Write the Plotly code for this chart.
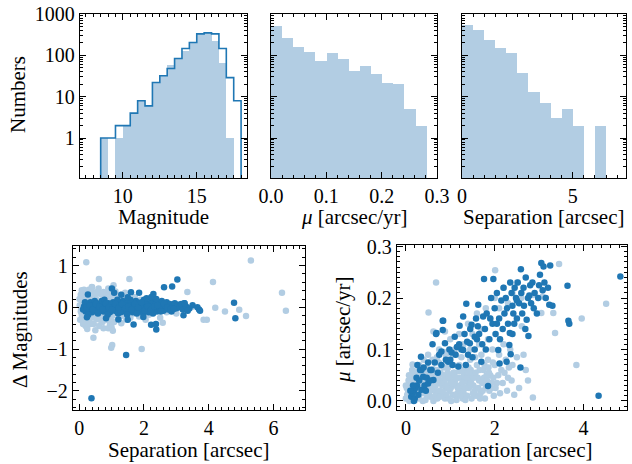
import plotly.graph_objects as go

FONT = "Liberation Serif"
DARK = "#1f77b4"
LIGHT = "rgb(178,205,227)"

# --- magnitude histogram (bins of 0.5 mag) ---
mag_edges = [8.5 + 0.5 * i for i in range(20)]
mag_step = [1, 1, 2, 2, 4, 8, 6, 22, 32, 48, 84, 146, 204, 330, 350, 330, 146, 29, 8]
mag_fill = [1, 0, 1, 2, 4, 8, 6, 22, 32, 58, 84, 131, 204, 320, 360, 228, 65, 1, 0]

# --- proper motion histogram ---
mu_edges = [0.0201 * i for i in range(15)]
mu_fill = [525, 264, 160, 121, 73, 117, 82, 43, 56, 36, 21, 20, 5, 2]

# --- separation histogram ---
sep_edges = [0.5 * i for i in range(14)]
sep_fill = [543, 411, 236, 148, 117, 38, 13, 7, 3, 5, 2, 0, 2]

# --- delta magnitude vs separation ---
dm_sep_light = [
    0.02, 0.05, 0.08, 0.1, 0.12, 0.15, 0.18, 0.2, 0.22, 0.25,
    0.28, 0.3, 0.32, 0.35, 0.38, 0.4, 0.05, 0.1, 0.15, 0.08,
    0.42, 0.45, 0.48, 0.5, 0.52, 0.55, 0.58, 0.6, 0.62, 0.65,
    0.68, 0.7, 0.72, 0.75, 0.78, 0.8, 0.45, 0.55, 0.6, 0.35,
    0.82, 0.85, 0.88, 0.9, 0.93, 0.95, 0.98, 1.0, 1.02, 1.05,
    1.08, 1.1, 1.12, 1.15, 1.18, 1.2, 1.22, 1.25, 1.28, 1.3,
    1.33, 1.36, 1.4, 1.42, 1.45, 1.48, 1.5, 1.55, 1.58, 1.6,
    1.65, 1.68, 1.72, 1.75, 1.8, 1.85, 1.9, 1.95, 2.0, 2.05,
    2.1, 2.15, 2.2, 2.3, 2.4, 2.5, 2.6, 2.7, 2.85, 3.0,
    0.2, 0.3, 0.25, 0.5, 0.6, 0.75, 0.9, 1.0, 0.15, 0.4,
    0.22, 5.3, 0.61, 1.55, 4.13, 6.26, 6.38, 4.2, 4.5, 4.94,
    5.15, 3.94, 3.34, 2.58, 0.44, 1.02, 0.99, 1.93, 0.08, 0.9,
    0.24, 3.48, 3.84, 0.75, 1.06, 1.42, 0.39, 1.04, 0.1, 0.03,
    0.12, 0.33, 0.47, 0.66, 0.83, 1.13, 1.24, 0.7, 0.37, 0.57,
    0.01, 0.06, 0.19, 0.27, 0.43, 0.52, 0.64, 0.86, 0.97, 1.17,
]
dm_val_light = [
    0.05, -0.1, 0.2, -0.25, 0.1, -0.05, 0.3, -0.35, 0.15, 0.0,
    -0.15, 0.25, -0.3, 0.05, 0.4, -0.2, 0.3, 0.12, -0.3, -0.18,
    0.1, -0.4, 0.3, -0.08, 0.2, -0.28, 0.38, 0.0, -0.45, 0.15,
    -0.15, 0.3, -0.35, 0.08, 0.25, -0.22, 0.2, 0.05, -0.18, -0.4,
    0.12, -0.3, 0.35, -0.05, 0.2, -0.4, 0.05, 0.28, -0.2, 0.15,
    -0.35, 0.05, 0.38, -0.12, 0.22, -0.28, 0.1, -0.05, 0.3, -0.38,
    0.15, -0.2, 0.05, 0.28, -0.3, 0.1, -0.1, 0.2, -0.25, 0.0,
    0.15, -0.15, 0.25, -0.05, 0.1, -0.22, 0.18, -0.1, 0.05, -0.3,
    0.12, -0.18, 0.22, -0.08, 0.15, -0.25, 0.1, -0.12, 0.05, -0.15,
    -0.45, 0.42, -0.52, -0.55, 0.45, -0.5, 0.45, -0.48, 0.42, 0.48,
    1.08, 1.12, 0.68, 0.68, 0.61, 0.35, -0.08, -0.01, -0.1, -0.06,
    -0.21, -0.3, 0.37, -0.37, -0.73, -0.9, -0.97, -1.0, 0.41, -0.5,
    -0.46, 0.01, -0.3, 0.37, 0.53, 0.35, 0.49, -0.56, 0.0, -0.3,
    -0.4, 0.12, -0.25, 0.32, -0.1, 0.25, -0.2, -0.05, -0.08, 0.1,
    0.2, -0.05, 0.05, -0.25, -0.1, 0.35, -0.3, 0.2, -0.25, -0.05,
]
dm_sep_dark = [
    0.15, 0.2, 0.25, 0.3, 0.35, 0.4, 0.45, 0.5, 0.55, 0.6,
    0.65, 0.7, 0.75, 0.8, 0.85, 0.9, 0.95, 1.0, 1.05, 1.1,
    1.15, 1.2, 1.25, 1.3, 1.35, 1.4, 1.45, 1.5, 1.55, 1.6,
    1.65, 1.7, 1.75, 1.8, 1.85, 1.9, 1.95, 2.0, 2.05, 2.1,
    2.15, 2.2, 2.25, 2.3, 2.35, 2.4, 2.45, 2.5, 2.55, 2.6,
    2.65, 2.7, 2.75, 2.8, 2.85, 2.9, 2.95, 3.0, 3.05, 3.1,
    3.15, 3.2, 3.25, 3.3, 3.4, 3.5, 0.18, 0.28, 0.38, 0.48,
    0.58, 0.68, 0.78, 0.88, 0.98, 1.08, 1.18, 1.28, 1.38, 1.48,
    1.58, 1.68, 1.78, 1.88, 1.98, 2.08, 2.18, 2.28, 2.38, 2.48,
    0.38, 1.45, 3.03, 2.87, 2.62, 1.01, 1.08, 1.6, 0.27, 4.78,
    4.82, 3.65, 3.7, 3.73, 2.37, 2.22, 2.38, 1.68, 3.22, 0.83,
    0.24, 1.85, 2.29, 2.23, 1.5, 1.3, 3.25, 1.21, 1.5, 1.98,
    0.12, 0.22, 0.32, 0.42, 0.52, 0.62, 0.72, 0.82, 0.92, 1.02,
    1.12, 1.22, 1.32, 1.42, 1.52, 1.62, 1.72, 1.82, 1.92, 2.02,
    2.12, 2.22, 2.32, 2.42, 2.52, 2.62, 2.72, 2.82, 2.92, 3.35,
]
dm_val_dark = [
    0.02, -0.1, 0.08, -0.05, 0.12, -0.12, 0.05, -0.02, 0.1, -0.08,
    0.03, 0.15, -0.1, 0.05, -0.05, 0.1, -0.12, 0.02, 0.12, -0.08,
    0.05, -0.15, 0.1, -0.03, 0.15, -0.1, 0.03, 0.12, -0.06, 0.08,
    -0.12, 0.02, 0.15, -0.05, 0.1, -0.1, 0.05, 0.18, -0.03, 0.1,
    -0.12, 0.05, 0.15, -0.05, 0.08, -0.1, 0.12, 0.0, 0.15, -0.08,
    0.05, 0.12, -0.05, 0.08, -0.1, 0.03, 0.1, -0.02, 0.06, 0.0,
    0.08, -0.05, 0.1, 0.02, -0.03, 0.05, 0.12, -0.18, 0.0, 0.15,
    -0.15, -0.02, 0.18, -0.18, 0.08, 0.0, 0.18, -0.12, 0.05, -0.18,
    0.18, -0.02, -0.15, 0.02, -0.15, 0.22, -0.02, -0.15, 0.2, -0.05,
    -2.18, -1.14, 0.67, 0.5, 0.48, 0.45, 0.35, 0.36, 0.31, 0.11,
    -0.26, 0.0, -0.05, -0.08, -0.4, -0.42, -0.53, -0.41, -0.19, -0.26,
    -0.24, 0.35, 0.32, 0.25, 0.24, 0.3, 0.1, -0.29, -0.3, -0.23,
    -0.05, 0.0, 0.05, -0.05, 0.08, 0.02, -0.05, 0.1, 0.0, -0.05,
    0.08, 0.0, 0.08, -0.02, 0.02, -0.05, 0.08, 0.0, 0.12, -0.08,
    0.02, -0.06, 0.02, 0.05, -0.1, 0.1, 0.0, -0.05, -0.04, -0.08,
]

# --- proper motion vs separation ---
pm_sep_light = [
    0.0, 0.05, 0.1, 0.15, 0.2, 0.25, 0.3, 0.35, 0.4, 0.45,
    0.5, 0.55, 0.6, 0.65, 0.7, 0.75, 0.8, 0.85, 0.9, 0.95,
    1.0, 1.05, 1.1, 1.15, 1.2, 1.25, 1.3, 1.35, 1.4, 1.45,
    1.5, 1.55, 1.6, 1.65, 1.7, 1.75, 1.8, 1.85, 1.9, 1.95,
    2.0, 2.05, 2.1, 2.15, 2.2, 2.25, 2.3, 2.35, 2.4, 2.5,
    0.02, 0.08, 0.12, 0.18, 0.22, 0.28, 0.32, 0.38, 0.42, 0.48,
    0.52, 0.58, 0.62, 0.68, 0.72, 0.78, 0.82, 0.88, 0.92, 0.98,
    1.02, 1.08, 1.12, 1.18, 1.22, 1.28, 1.32, 1.38, 1.42, 1.48,
    1.52, 1.58, 1.62, 1.68, 1.72, 1.78, 1.82, 1.88, 1.92, 1.98,
    2.02, 2.08, 2.12, 2.18, 2.22, 2.28, 2.32, 2.38, 2.44, 2.55,
    0.6, 0.75, 0.9, 1.0, 1.1, 1.2, 1.3, 1.4, 1.5, 1.6,
    1.7, 1.8, 1.9, 2.0, 2.1, 2.2, 2.3, 2.4, 2.5, 2.6,
    0.68, 2.01, 3.45, 4.51, 3.96, 3.84, 2.86, 3.36, 2.87, 3.08,
    0.51, 0.15, 2.61, 3.05, 3.32, 0.62, 0.88, 2.7, 2.65, 2.75,
    0.06, 0.14, 0.26, 0.34, 0.46, 0.56, 0.66, 0.74, 0.86, 0.96,
    1.06, 1.16, 1.26, 1.36, 1.46, 1.56, 1.66, 1.76, 1.86, 1.96,
    0.03, 0.09, 0.16, 0.21, 0.24, 0.31, 0.36, 0.41, 0.44, 0.51,
    0.54, 0.61, 0.64, 0.71, 0.76, 0.81, 0.84, 0.91, 0.94, 1.01,
    1.04, 1.11, 1.14, 1.21, 1.24, 1.31, 1.34, 1.41, 1.44, 1.51,
    0.3, 0.4, 0.5, 0.7, 0.85, 1.05, 1.25, 1.45, 1.65, 1.85,
    0.0, 0.07, 0.13, 0.17, 0.23, 0.27, 0.33, 0.37, 0.43, 0.47,
    0.53, 0.57, 0.63, 0.67, 0.73, 0.77, 0.83, 0.87, 0.93, 0.97,
    1.03, 1.07, 1.13, 1.17, 1.23, 1.27, 1.33, 1.37, 1.43, 1.47,
    1.53, 1.57, 1.63, 1.67, 1.73, 1.77, 1.83, 1.87, 1.93, 1.97,
]
pm_val_light = [
    0.005, 0.02, 0.035, 0.01, 0.045, 0.025, 0.005, 0.04, 0.015, 0.055,
    0.03, 0.008, 0.045, 0.02, 0.06, 0.035, 0.01, 0.05, 0.025, 0.065,
    0.04, 0.012, 0.055, 0.03, 0.07, 0.045, 0.015, 0.06, 0.035, 0.08,
    0.05, 0.02, 0.07, 0.04, 0.09, 0.06, 0.025, 0.08, 0.05, 0.1,
    0.07, 0.035, 0.09, 0.06, 0.11, 0.08, 0.045, 0.1, 0.07, 0.085,
    0.025, 0.0, 0.05, 0.03, 0.015, 0.06, 0.035, 0.0, 0.03, 0.01,
    0.05, 0.025, 0.0, 0.04, 0.015, 0.055, 0.03, 0.005, 0.045, 0.02,
    0.0, 0.03, 0.01, 0.045, 0.02, 0.005, 0.04, 0.01, 0.025, 0.005,
    0.03, 0.01, 0.045, 0.015, 0.035, 0.005, 0.05, 0.02, 0.035, 0.01,
    0.025, 0.05, 0.015, 0.035, 0.055, 0.02, 0.065, 0.04, 0.012, 0.025,
    0.08, 0.1, 0.09, 0.12, 0.1, 0.13, 0.11, 0.15, 0.13, 0.17,
    0.14, 0.18, 0.16, 0.2, 0.18, 0.22, 0.19, 0.21, 0.23, 0.2,
    0.23, 0.254, 0.266, 0.189, 0.16, 0.07, 0.007, 0.132, 0.206, 0.203,
    0.172, 0.071, 0.145, 0.171, 0.171, 0.135, 0.135, 0.06, 0.09, 0.04,
    0.04, 0.06, 0.01, 0.055, 0.04, 0.06, 0.01, 0.075, 0.065, 0.005,
    0.07, 0.015, 0.06, 0.025, 0.06, 0.085, 0.06, 0.045, 0.065, 0.075,
    0.012, 0.028, 0.042, 0.002, 0.052, 0.018, 0.028, 0.045, 0.002, 0.015,
    0.04, 0.062, 0.03, 0.005, 0.02, 0.068, 0.04, 0.012, 0.055, 0.025,
    0.05, 0.04, 0.002, 0.058, 0.03, 0.05, 0.002, 0.065, 0.045, 0.015,
    0.07, 0.08, 0.09, 0.085, 0.095, 0.09, 0.085, 0.1, 0.11, 0.12,
    0.03, 0.05, 0.02, 0.055, 0.035, 0.045, 0.015, 0.05, 0.022, 0.065,
    0.018, 0.045, 0.055, 0.03, 0.045, 0.008, 0.018, 0.035, 0.03, 0.048,
    0.035, 0.055, 0.045, 0.025, 0.01, 0.035, 0.025, 0.045, 0.055, 0.035,
    0.045, 0.055, 0.025, 0.005, 0.02, 0.07, 0.04, 0.055, 0.025, 0.045,
]
pm_sep_dark = [
    0.12, 0.18, 0.2, 0.25, 0.28, 0.3, 0.34, 0.35, 0.39, 0.42,
    0.5, 0.55, 0.58, 0.62, 0.65, 0.68, 0.69, 0.72, 0.75, 0.8,
    0.8, 0.83, 0.84, 0.83, 0.88, 0.9, 0.95, 0.98, 1.03, 1.05,
    1.1, 1.12, 1.18, 1.2, 1.21, 1.25, 1.29, 1.29, 1.32, 1.36,
    1.38, 1.44, 1.45, 1.48, 1.5, 1.55, 1.58, 1.63, 1.65, 1.7,
    1.72, 1.74, 1.76, 1.78, 1.82, 1.85, 1.88, 1.92, 1.95, 1.97,
    2.0, 2.02, 2.05, 2.08, 2.1, 2.11, 2.15, 2.18, 2.2, 2.22,
    2.25, 2.27, 2.3, 2.33, 2.34, 2.36, 2.38, 2.4, 2.42, 2.45,
    2.48, 2.5, 2.52, 2.55, 2.58, 2.59, 2.6, 2.62, 2.65, 2.69,
    2.72, 2.75, 2.76, 2.8, 2.82, 2.85, 2.9, 2.95, 3.0, 3.02,
    3.05, 3.1, 3.12, 3.15, 3.2, 3.23, 3.25, 3.3, 3.64, 3.66,
    3.68, 4.34, 4.83, 0.47, 0.22, 0.35, 0.15, 0.6, 1.6, 1.4,
    1.0, 1.15, 1.35, 1.55, 1.62, 1.8, 1.9, 2.05, 2.12, 2.28,
    2.35, 2.44, 2.5, 2.66, 2.7, 2.78, 2.88, 2.98, 3.08, 2.4,
    0.1, 0.16, 0.24, 0.32, 0.26, 0.4, 0.45, 0.55, 0.18, 0.5,
]
pm_val_dark = [
    0.008, 0.02, 0.005, 0.03, 0.012, 0.04, 0.086, 0.022, 0.047, 0.03,
    0.034, 0.06, 0.06, 0.041, 0.075, 0.13, 0.132, 0.055, 0.09, 0.096,
    0.07, 0.156, 0.156, 0.138, 0.112, 0.08, 0.076, 0.1, 0.094, 0.07,
    0.125, 0.09, 0.067, 0.11, 0.146, 0.1, 0.099, 0.164, 0.13, 0.189,
    0.115, 0.112, 0.14, 0.148, 0.085, 0.125, 0.16, 0.187, 0.13, 0.076,
    0.11, 0.164, 0.237, 0.14, 0.17, 0.029, 0.12, 0.2, 0.15, 0.237,
    0.18, 0.13, 0.21, 0.099, 0.16, 0.073, 0.195, 0.14, 0.22, 0.17,
    0.2, 0.076, 0.15, 0.109, 0.132, 0.091, 0.21, 0.185, 0.17, 0.22,
    0.2, 0.16, 0.23, 0.19, 0.065, 0.256, 0.21, 0.17, 0.22, 0.14,
    0.158, 0.2, 0.126, 0.225, 0.19, 0.23, 0.21, 0.17, 0.225, 0.245,
    0.268, 0.261, 0.23, 0.2, 0.22, 0.187, 0.263, 0.185, 0.224, 0.156,
    0.15, 0.01, 0.242, 0.045, 0.025, 0.06, 0.015, 0.11, 0.12, 0.09,
    0.08, 0.105, 0.07, 0.1, 0.145, 0.1, 0.16, 0.15, 0.12, 0.18,
    0.23, 0.15, 0.195, 0.185, 0.24, 0.205, 0.18, 0.2, 0.215, 0.13,
    0.02, 0.03, 0.045, 0.06, 0.07, 0.065, 0.02, 0.04, 0.0, 0.075,
]


def centers(edges):
    return [(a + b) / 2 for a, b in zip(edges[:-1], edges[1:])]


def step_outline(edges, counts, floor=1e-3):
    xs = [edges[0]] + list(edges) + [edges[-1]]
    ys = [floor] + list(counts) + [counts[-1], floor]
    return xs, ys


fig = go.Figure()

# histograms
fig.add_trace(go.Bar(x=centers(mag_edges), y=mag_fill, width=0.5, marker=dict(color=LIGHT, line_width=0),
                     xaxis="x", yaxis="y"))
sx, sy = step_outline(mag_edges, mag_step)
fig.add_trace(go.Scatter(x=sx, y=sy, mode="lines", line=dict(color=DARK, width=1.6, shape="hv"),
                         xaxis="x", yaxis="y"))
fig.add_trace(go.Bar(x=centers(mu_edges), y=mu_fill, width=0.0201, marker=dict(color=LIGHT, line_width=0),
                     xaxis="x2", yaxis="y2"))
fig.add_trace(go.Bar(x=centers(sep_edges), y=sep_fill, width=0.5, marker=dict(color=LIGHT, line_width=0),
                     xaxis="x3", yaxis="y3"))

# scatters
mk = dict(size=6.5, line_width=0)
fig.add_trace(go.Scatter(x=dm_sep_light, y=dm_val_light, mode="markers", marker=dict(color=LIGHT, **mk),
                         xaxis="x4", yaxis="y4"))
fig.add_trace(go.Scatter(x=dm_sep_dark, y=dm_val_dark, mode="markers", marker=dict(color=DARK, **mk),
                         xaxis="x4", yaxis="y4"))
fig.add_trace(go.Scatter(x=pm_sep_light, y=pm_val_light, mode="markers", marker=dict(color=LIGHT, **mk),
                         xaxis="x5", yaxis="y5"))
fig.add_trace(go.Scatter(x=pm_sep_dark, y=pm_val_dark, mode="markers", marker=dict(color=DARK, **mk),
                         xaxis="x5", yaxis="y5"))

W, H = 632, 464


def dom_x(a, b):
    return [a / W, b / W]


def dom_y(top, bottom):
    return [1 - bottom / H, 1 - top / H]


def ax(domain, rng, dtick, minor, labels=True, anchor=None, log=False, fmt=None):
    d = dict(domain=domain, range=rng, dtick=dtick, showline=True, linecolor="black", linewidth=1.3,
             mirror="allticks", ticks="inside", ticklen=6, tickwidth=1, tickcolor="black",
             showgrid=False, zeroline=False, showticklabels=labels, automargin=False,
             tickfont=dict(family=FONT, size=20, color="black"),
             minor=dict(ticks="inside", ticklen=3, tickwidth=0.8, tickcolor="black", dtick=minor, showgrid=False))
    if anchor:
        d["anchor"] = anchor
    if log:
        d["type"] = "log"
        d["exponentformat"] = "none"
        d["tick0"] = 0
    if fmt:
        d["tickformat"] = fmt
    return d


ytop = dom_y(14, 178)
logr = [-0.966, 3.0]
fig.update_layout(
    xaxis=ax(dom_x(80, 247), [7.1, 18.4], 5, 0.5, anchor="y"),
    yaxis=ax(ytop, logr, 1, "D1", anchor="x", log=True),
    xaxis2=ax(dom_x(271, 437), [0, 0.3], 0.1, 0.02, anchor="y2", fmt=".1f"),
    yaxis2=ax(ytop, logr, 1, "D1", labels=False, anchor="x2", log=True),
    xaxis3=ax(dom_x(462, 626), [0, 7.4], 5, 0.5, anchor="y3"),
    yaxis3=ax(ytop, logr, 1, "D1", labels=False, anchor="x3", log=True),
    xaxis4=ax(dom_x(73, 305), [-0.19, 6.97], 2, 0.2, anchor="y4"),
    yaxis4=ax(dom_y(246, 410), [-2.46, 1.47], 1, 0.2, anchor="x4"),
    xaxis5=ax(dom_x(397, 627), [-0.2, 4.98], 2, 0.2, anchor="y5"),
    yaxis5=ax(dom_y(245, 410), [-0.0175, 0.303], 0.1, 0.01, anchor="x5", fmt=".1f"),
    width=W, height=H, margin=dict(l=0, r=0, t=0, b=0),
    paper_bgcolor="white", plot_bgcolor="white", showlegend=False, bargap=0,
    font=dict(family=FONT, color="black"),
)

titles = [
    ("Numbers", 18, 95, -90),
    ("Magnitude", 163, 217, 0),
    ("<i>μ</i> [arcsec/yr]", 354, 217, 0),
    ("Separation [arcsec]", 544, 217, 0),
    ("Δ Magnitudes", 20, 330, -90),
    ("Separation [arcsec]", 189, 450, 0),
    ("Separation [arcsec]", 512, 450, 0),
    ("<i>μ</i> [arcsec/yr]", 343, 330, -90),
]
for text, px, py, ang in titles:
    fig.add_annotation(text=text, x=px / W, y=1 - py / H, xref="paper", yref="paper",
                       showarrow=False, textangle=ang, xanchor="center", yanchor="middle",
                       font=dict(family=FONT, size=21, color="black"))

# page body has a default 8px margin; drop it so the figure sits at the corner
fig.write_html("out.html", config={"displayModeBar": False},
               post_script="document.body.style.margin = '0px';")
